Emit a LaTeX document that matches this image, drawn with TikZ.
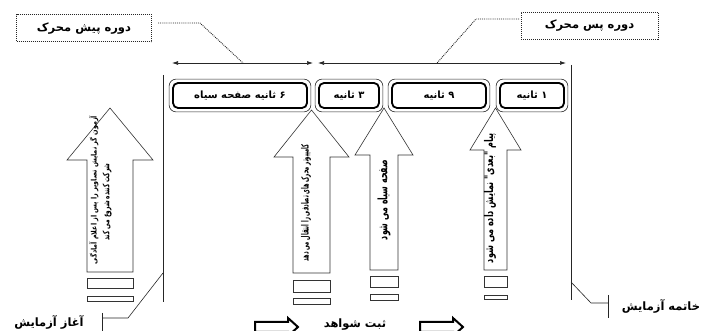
\documentclass[tikz,border=0pt]{standalone}
\usepackage{fontspec}
\usepackage{graphicx}
\TeXXeTstate=1
\newfontfamily\fa[Script=Arabic]{DejaVu Sans}
\usetikzlibrary{arrows.meta}
\newcommand{\rtl}[1]{{\fa\beginR #1\endR}}
\begin{document}
\begin{tikzpicture}[x=1pt,y=-1pt,
  thinline/.style={draw=black!85,line width=0.6pt},
  blockarrow/.style={draw=black!80,line width=0.6pt,fill=white,line join=miter},
  smallrect/.style={draw=black!80,line width=0.6pt},
  dim/.style={draw=black!85,line width=0.7pt,{Latex[length=6pt,width=4pt]}-{Latex[length=6pt,width=4pt]}},
  leader/.style={draw=black!85,line width=0.9pt,densely dotted},
  labelbox/.style={draw=black!85,line width=1pt,densely dotted,minimum height=27pt,inner sep=0pt,font=\fa\bfseries\fontsize{11.5}{13}\selectfont},
  timebox/.style={draw=black,line width=1.8pt,rounded corners=5pt,minimum height=25pt,inner sep=0pt,font=\fa\bfseries\fontsize{10}{12}\selectfont},
  outerbox/.style={draw=black!85,line width=0.6pt,rounded corners=7pt},
  vtext/.style={rotate=90,inner sep=0pt,font=\fa\bfseries},
  lbl/.style={inner sep=0pt,font=\fa\bfseries\fontsize{11.5}{13}\selectfont},
  hollow/.style={draw=black,line width=2pt,line join=miter}]
\useasboundingbox (0,0) rectangle (716,331);
\clip (0,0) rectangle (716,331);

% top labels
\node[labelbox,minimum width=135pt] (dl) at (84,28.5) {\rtl{دوره پیش محرک}};
\node[labelbox,minimum width=137pt] (dr) at (589.5,26) {\rtl{دوره پس محرک}};

% dimension arrows
\coordinate (a1l) at (172,63);
\coordinate (a1r) at (313,63);
\coordinate (a2l) at (318,63);
\coordinate (a2r) at (566,63);
\draw[dim] (a1l) -- (a1r);
\draw[dim] (a2l) -- (a2r);

% leaders
\coordinate (ll1) at (158,23);
\coordinate (ll2) at (200,23);
\coordinate (ll3) at (243,63);
\draw[leader] (ll1) -- (ll2) -- (ll3);
\coordinate (lr1) at (519,19);
\coordinate (lr2) at (476,19);
\coordinate (lr3) at (437,63);
\draw[leader] (lr1) -- (lr2) -- (lr3);

% vertical lines
\coordinate (vl1) at (163,75);
\coordinate (vl2) at (163,302);
\coordinate (vr1) at (571,65);
\coordinate (vr2) at (571,300);
\draw[thinline] (vl1) -- (vl2);
\draw[thinline] (vr1) -- (vr2);

% time boxes
\node[timebox,minimum width=134pt] (b1) at (240,95.5) {\rtl{۶ ثانیه صفحه سیاه}};
\node[timebox,minimum width=60pt] (b2) at (349,95.5) {\rtl{۳ ثانیه}};
\node[timebox,minimum width=94pt] (b3) at (439,95.5) {\rtl{۹ ثانیه}};
\node[timebox,minimum width=64pt] (b4) at (532,95.5) {\rtl{۱ ثانیه}};
\foreach \b in {b1,b2,b3,b4}{
  \draw[outerbox] ([shift={(-3,-3)}]\b.north west) rectangle ([shift={(3,3)}]\b.south east);
}

% block arrows
\draw[blockarrow] (110,108) -- (153,160) -- (133,160) -- (133,272) -- (87,272) -- (87,160) -- (67,160) -- cycle;
\draw[blockarrow] (311.5,110) -- (349,157) -- (330,157) -- (330,273) -- (293,273) -- (293,157) -- (274,157) -- cycle;
\draw[blockarrow] (384,108) -- (413,155) -- (398,155) -- (398,270) -- (370,270) -- (370,155) -- (355,155) -- cycle;
\draw[blockarrow] (495.5,108) -- (521,150) -- (507,150) -- (507,270) -- (484,270) -- (484,150) -- (470,150) -- cycle;

% arrow texts
\node[vtext] (t1a) at (94,190) {\resizebox*{148pt}{9pt}{\beginR آزمون گر نمایش تصاویر را پس از اعلام آمادگی\endR}};
\node[vtext] (t1b) at (107,202) {\resizebox*{77pt}{9pt}{\beginR شرکت کننده شروع می کند\endR}};
\node[vtext] (t2) at (306,203) {\resizebox*{117pt}{10pt}{\beginR کامپیوتر محرک های تصادفی را انتقال می دهد\endR}};
\node[vtext] (t3) at (384,200) {\resizebox*{80pt}{13pt}{\beginR صفحه سیاه می شود\endR}};
\node[vtext] (t4) at (490,198) {\resizebox*{130pt}{12pt}{\beginR پیام "بعدی" نمایش داده می شود\endR}};

% small rectangles
\draw[smallrect] (87,278) rectangle (133,288);
\draw[smallrect] (87,296) rectangle (133,301);
\draw[smallrect] (293,280) rectangle (330,292);
\draw[smallrect] (293,298) rectangle (330,304);
\draw[smallrect] (370,276) rectangle (398,287);
\draw[smallrect] (370,294) rectangle (398,300);
\draw[smallrect] (484,276) rectangle (507,287);
\draw[smallrect] (484,295) rectangle (507,299);

% start / end markers
\coordinate (s1) at (163,273);
\coordinate (s2) at (128,318);
\coordinate (s3) at (102,318);
\coordinate (s4) at (102,313);
\coordinate (s5) at (102,331);
\draw[thinline] (s1) -- (s2) -- (s3);
\draw[thinline] (s4) -- (s5);
\node[lbl] (start) at (49,322) {\rtl{آغاز آزمایش}};

\coordinate (e1) at (571,282);
\coordinate (e2) at (591,303);
\coordinate (e3) at (608,303);
\coordinate (e4) at (608,295);
\coordinate (e5) at (608,318);
\draw[thinline] (e1) -- (e2) -- (e3);
\draw[thinline] (e4) -- (e5);
\node[lbl] (end) at (661,306) {\rtl{خاتمه آزمایش}};

% bottom
\draw[hollow] (255,322) -- (288,322) -- (288,318) -- (298,327) -- (288,336) -- (288,332) -- (255,332) -- cycle;
\draw[hollow] (420,322) -- (453,322) -- (453,318) -- (463,327) -- (453,336) -- (453,332) -- (420,332) -- cycle;
\node[lbl] (rec) at (355,325) {\rtl{ثبت شواهد}};
\end{tikzpicture}
\end{document}
